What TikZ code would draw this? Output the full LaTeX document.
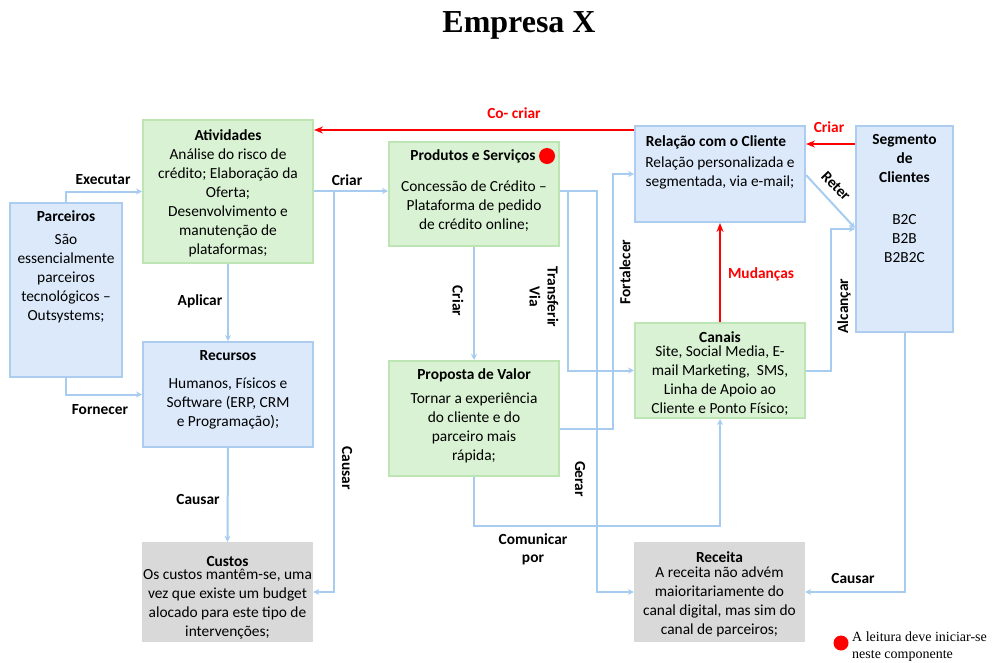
\documentclass[tikz,border=0pt]{standalone}
\usepackage{fontspec}
\setmainfont{Carlito}
\newfontfamily\titleserif{Liberation Serif}
\usetikzlibrary{arrows.meta}
\definecolor{bfill}{HTML}{DBE9FA}
\definecolor{bbord}{HTML}{ADCDF0}
\definecolor{gfill}{HTML}{D9F2D3}
\definecolor{gbord}{HTML}{BDE5B4}
\definecolor{gryfill}{HTML}{D9D9D9}
\definecolor{connc}{HTML}{A8CCF0}
\definecolor{redc}{HTML}{FF0000}
\tikzset{
  bluebox/.style={draw=bbord, fill=bfill, line width=2pt, inner sep=0pt},
  greenbox/.style={draw=gbord, fill=gfill, line width=2pt, inner sep=0pt},
  graybox/.style={fill=gryfill, inner sep=0pt},
  txt/.style={align=center, font=\fontsize{15.4}{19}\selectfont, inner sep=0pt},
  ttl/.style={align=center, font=\bfseries\fontsize{15.4}{19}\selectfont, inner sep=0pt},
  lbl/.style={align=center, font=\bfseries\fontsize{15.4}{18}\selectfont, inner sep=0pt},
  redlbl/.style={lbl, text=redc},
  conn/.style={draw=connc, line width=2pt, -{Stealth[length=6pt,width=6pt]}},
  redconn/.style={draw=redc, line width=2.4pt, -{Stealth[length=9pt,width=7pt]}},
}
\begin{document}
\begin{tikzpicture}[x=1pt,y=-1pt]
\useasboundingbox (0,0) rectangle (996,662);
% title
\node[font=\titleserif\bfseries\fontsize{32}{36}\selectfont, inner sep=0pt] (title) at (519,25) {Empresa X};

% boxes
\node[bluebox, minimum width=112pt, minimum height=174pt] (parc) at (66,290) {};
\node[greenbox, minimum width=170pt, minimum height=143pt] (ativ) at (228,191.5) {};
\node[bluebox, minimum width=170pt, minimum height=105pt] (recu) at (228,394.5) {};
\node[graybox, minimum width=171pt, minimum height=100pt] (cust) at (227.5,592) {};
\node[greenbox, minimum width=170pt, minimum height=104pt] (prod) at (474,194) {};
\node[greenbox, minimum width=170pt, minimum height=115pt] (prop) at (474,418.5) {};
\node[bluebox, minimum width=170pt, minimum height=96pt] (rela) at (720,174) {};
\node[greenbox, minimum width=170pt, minimum height=95pt] (cana) at (720,370.5) {};
\node[bluebox, minimum width=97pt, minimum height=206pt] (segm) at (904.5,229) {};
\node[graybox, minimum width=171pt, minimum height=100pt] (rece) at (719.5,592) {};

% box texts
\node[ttl] (parcT) at (66,216) {Parceiros};
\node[txt] (parcB) at (66,279) {São\\essencialmente\\parceiros\\tecnológicos –\\Outsystems;};
\node[ttl] (ativT) at (228,135) {Atividades};
\node[txt] (ativB) at (228,202.5) {Análise do risco de\\crédito; Elaboração da\\Oferta;\\Desenvolvimento e\\manutenção de\\plataformas;};
\node[ttl] (recuT) at (228,356) {Recursos};
\node[txt] (recuB) at (228,404) {Humanos, Físicos e\\Software (ERP, CRM\\e Programação);};
\node[ttl] (custT) at (227.5,561) {Custos};
\node[txt] (custB) at (227.5,604) {Os custos mantêm-se, uma\\vez que existe um budget\\alocado para este tipo de\\intervenções;};
\node[ttl] (prodT) at (473,156) {Produtos e Serviços};
\node[txt] (prodB) at (474,206) {Concessão de Crédito –\\Plataforma de pedido\\de crédito online;};
\node[ttl] (propT) at (474,375) {Proposta de Valor};
\node[txt] (propB) at (474,427.5) {Tornar a experiência\\do cliente e do\\parceiro mais\\rápida;};
\node[ttl] (relaT) at (716,142) {Relação com o Cliente};
\node[txt] (relaB) at (720,172.5) {Relação personalizada e\\segmentada, via e-mail;};
\node[ttl] (canaT) at (720,337) {Canais};
\node[txt] (canaB) at (720,381) {Site, Social Media, E-\\mail Marketing,~ SMS,\\Linha de Apoio ao\\Cliente e Ponto Físico;};
\node[ttl] (segmT) at (904.5,158.5) {Segmento\\de\\Clientes};
\node[txt] (segmB) at (904.5,239) {B2C\\B2B\\B2B2C};
\node[ttl] (receT) at (719.5,557) {Receita};
\node[txt] (receB) at (719.5,602) {A receita não advém\\maioritariamente do\\canal digital, mas sim do\\canal de parceiros;};

% red start dots
\fill[redc] (547,156) circle (8pt);
\fill[redc] (841,643) circle (7.5pt);
\node[anchor=west, align=left, font=\titleserif\fontsize{14}{17}\selectfont, inner sep=0pt] (legend) at (852,646.5) {A leitura deve iniciar-se\\neste componente};

% connector helper coordinates
\coordinate (b1) at (334,191);
\coordinate (b2) at (568,191);
\coordinate (b3) at (597,191);
\coordinate (b4) at (613,429);
\coordinate (b5) at (474,526);
\coordinate (b6) at (831,370.5);

% blue connectors
\draw[conn] (parc.north) |- (ativ.west);
\draw[conn] (parc.south) |- (recu.west);
\draw[conn] (ativ.south) -- (recu.north);
\draw[conn] (ativ.east |- b1) -- (prod.west |- b1);
\draw[conn] (b1) |- (cust.east);
\draw[conn] (recu.south) -- (cust.north);
\draw[conn] (prod.south) -- (prop.north);
\draw[conn] (prod.east |- b3) -- (b3) |- (rece.west);
\draw[conn] (b2) |- (cana.west);
\draw[conn] (prop.east |- b4) -- (b4) |- (rela.west);
\draw[conn] (prop.south) -- (b5) -| (cana.south);
\draw[conn] (cana.east) -- (b6) |- (segm.west);
\draw[conn] (rela.east |- 0,175) -- (segm.west |- 0,228);
\draw[conn] (segm.south) |- (rece.east);

% red connectors
\draw[redconn] (cana.north) -- (rela.south);
\draw[redconn] (segm.west |- 0,144) -- (rela.east |- 0,144);
\draw[redconn] (rela.west |- 0,130) -- (ativ.east |- 0,130);

% connector labels
\node[lbl] (lExec) at (103,180) {Executar};
\node[lbl] (lForn) at (100,410) {Fornecer};
\node[lbl] (lApl) at (200,301) {Aplicar};
\node[lbl] (lCri1) at (347,180) {Criar};
\node[lbl, rotate=-90] (lCau1) at (347,468) {Causar};
\node[lbl] (lCau2) at (198,499) {Causar};
\node[lbl, rotate=-90] (lCri2) at (458,301) {Criar};
\node[lbl, rotate=-90] (lTra) at (544,297) {Transferir\\Via};
\node[lbl, rotate=90] (lFor) at (625,272) {Fortalecer};
\node[lbl, rotate=-90] (lGer) at (580,479) {Gerar};
\node[lbl] (lCom) at (533,549.5) {Comunicar\\por};
\node[lbl, rotate=90] (lAlc) at (844,306) {Alcançar};
\node[lbl, rotate=-46] (lRet) at (836,186) {Reter};
\node[lbl] (lCau3) at (853,578) {Causar};
\node[redlbl] (lMud) at (761,274) {Mudanças};
\node[redlbl] (lCri3) at (829,127) {Criar};
\node[redlbl] (lCoc) at (514,113) {Co- criar};
\end{tikzpicture}
\end{document}
